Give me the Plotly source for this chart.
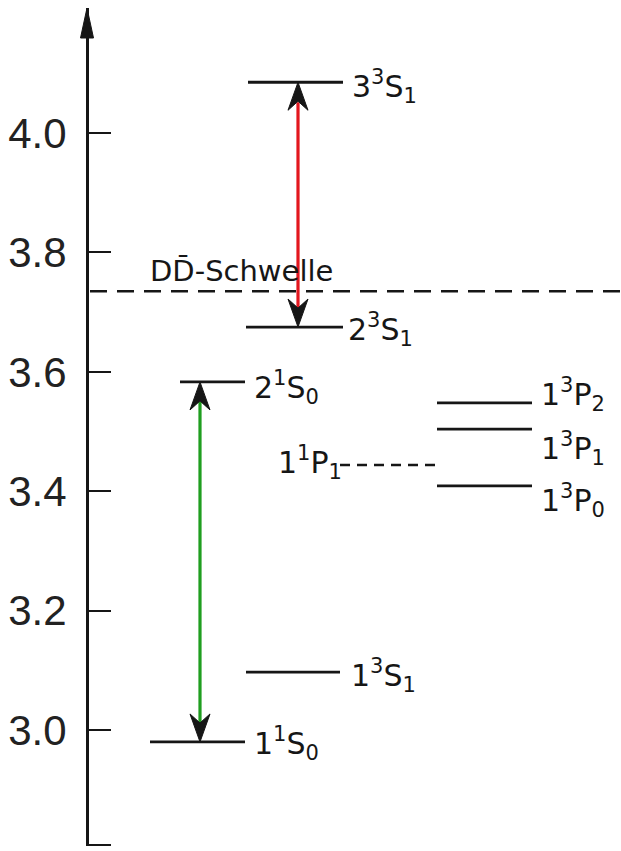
import plotly.graph_objects as go

# ---- data (masses in GeV) ----
level_names = ["3<sup>3</sup>S<sub>1</sub>", "2<sup>3</sup>S<sub>1</sub>", "2<sup>1</sup>S<sub>0</sub>",
               "1<sup>3</sup>P<sub>2</sub>", "1<sup>3</sup>P<sub>1</sub>", "1<sup>1</sup>P<sub>1</sub>",
               "1<sup>3</sup>P<sub>0</sub>", "1<sup>3</sup>S<sub>1</sub>", "1<sup>1</sup>S<sub>0</sub>"]
level_mass = [4.085, 3.675, 3.583, 3.548, 3.504, 3.444, 3.409, 3.097, 2.980]
dd_threshold = 3.735
threshold_label = "DD\u0304-Schwelle"
tick_vals = [3.0, 3.2, 3.4, 3.6, 3.8, 4.0]
tick_text = ["3.0", "3.2", "3.4", "3.6", "3.8", "4.0"]
transitions = [("3<sup>3</sup>S<sub>1</sub>", "2<sup>3</sup>S<sub>1</sub>"),
               ("2<sup>1</sup>S<sub>0</sub>", "1<sup>1</sup>S<sub>0</sub>")]

# ---- layout / style (pixel geometry) ----
W, H = 621, 851
AX_PX = 87
Y_TOP_PX, Y_BOT_PX = 8, 846
PX_PER_GEV = 597.0
Y0_PX = 133  # pixel of 4.0
def v_at(px):
    return 4.0 + (Y0_PX - px) / PX_PER_GEV
y_range = [v_at(Y_BOT_PX), v_at(Y_TOP_PX)]
x_range = [-AX_PX, W - AX_PX]

# line extents (x in px relative to axis), dashed flag, label x, label dy(px)
style = {
    level_names[0]: dict(x=(161, 256), dash=False, lx=263, ldy=4),
    level_names[1]: dict(x=(159, 256), dash=False, lx=259, ldy=2),
    level_names[2]: dict(x=(93, 158), dash=False, lx=165, ldy=6),
    level_names[3]: dict(x=(350, 445), dash=False, lx=452, ldy=-8),
    level_names[4]: dict(x=(350, 445), dash=False, lx=452, ldy=19),
    level_names[5]: dict(x=(253, 350), dash=True, lx=189, ldy=-2),
    level_names[6]: dict(x=(350, 445), dash=False, lx=452, ldy=15),
    level_names[7]: dict(x=(159, 253), dash=False, lx=262, ldy=3),
    level_names[8]: dict(x=(63, 158), dash=False, lx=165, ldy=2),
}
arrow_x = [211, 113]
arrow_col = ["#e3161e", "#1f9e1f"]
INK = "#161616"
LABEL_FONT = dict(family="DejaVu Sans", size=30, color=INK)

fig = go.Figure()

# threshold line
fig.add_trace(go.Scatter(x=[3, W - AX_PX], y=[dd_threshold, dd_threshold], mode="lines",
                         line=dict(color=INK, width=2.5, dash="17px,10px"), hoverinfo="skip"))

# levels
for name, m in zip(level_names, level_mass):
    s = style[name]
    fig.add_trace(go.Scatter(x=list(s["x"]), y=[m, m], mode="lines",
                             line=dict(color=INK, width=2.8 if not s["dash"] else 2.5,
                                       dash="10px,7px" if s["dash"] else "solid"),
                             hoverinfo="skip"))
    fig.add_annotation(x=s["lx"], y=m - s["ldy"] / PX_PER_GEV, text=name, showarrow=False,
                       xanchor="left", yanchor="middle", font=LABEL_FONT, xref="x", yref="y")

# transition arrows
mass_of = dict(zip(level_names, level_mass))
def head(x, ytip, direction):
    # direction +1: points up, -1: points down
    L, Wd, N = 28, 10, 19
    d = direction / PX_PER_GEV
    xs = [x, x - Wd, x, x + Wd, x]
    ys = [ytip, ytip - L * d, ytip - N * d, ytip - L * d, ytip]
    return xs, ys

for (a, b), ax, col in zip(transitions, arrow_x, arrow_col):
    ya, yb = mass_of[a], mass_of[b]
    fig.add_trace(go.Scatter(x=[ax, ax], y=[ya - 20 / PX_PER_GEV, yb + 20 / PX_PER_GEV], mode="lines",
                             line=dict(color=col, width=3.2), hoverinfo="skip"))
    for yt, dr in ((ya, 1), (yb, -1)):
        hx, hy = head(ax, yt, dr)
        fig.add_trace(go.Scatter(x=hx, y=hy, mode="lines", fill="toself", fillcolor=INK,
                                 line=dict(color=INK, width=1), hoverinfo="skip"))

# axis arrow head at top
top = y_range[1]
hx = [0, -6.5, 6.5, 0]
hy = [top, top - 30 / PX_PER_GEV, top - 30 / PX_PER_GEV, top]
fig.add_trace(go.Scatter(x=hx, y=hy, mode="lines", fill="toself", fillcolor=INK,
                         line=dict(color=INK, width=1), hoverinfo="skip"))

# threshold label
fig.add_annotation(x=61, y=v_at(271), text=threshold_label, showarrow=False, xanchor="left",
                   yanchor="middle", font=dict(family="DejaVu Sans", size=29, color=INK))

fig.update_layout(
    width=W, height=H, margin=dict(l=0, r=0, t=Y_TOP_PX, b=H - Y_BOT_PX),
    paper_bgcolor="white", plot_bgcolor="white", showlegend=False,
    xaxis=dict(range=x_range, visible=False, fixedrange=True),
    yaxis=dict(range=y_range, anchor="free", position=AX_PX / W, showline=True, linecolor=INK,
               linewidth=3, showgrid=False, zeroline=False, ticks="inside", ticklen=22,
               tickwidth=2, tickcolor=INK,
               tickvals=[y_range[0] + 1.5 / PX_PER_GEV] + tick_vals, ticktext=[""] + tick_text,
               tickfont=dict(family="Liberation Sans Narrow, Liberation Sans", size=42, color="#222"),
               ticklabelstandoff=11, fixedrange=True),
)

fig.write_html("out.html")
